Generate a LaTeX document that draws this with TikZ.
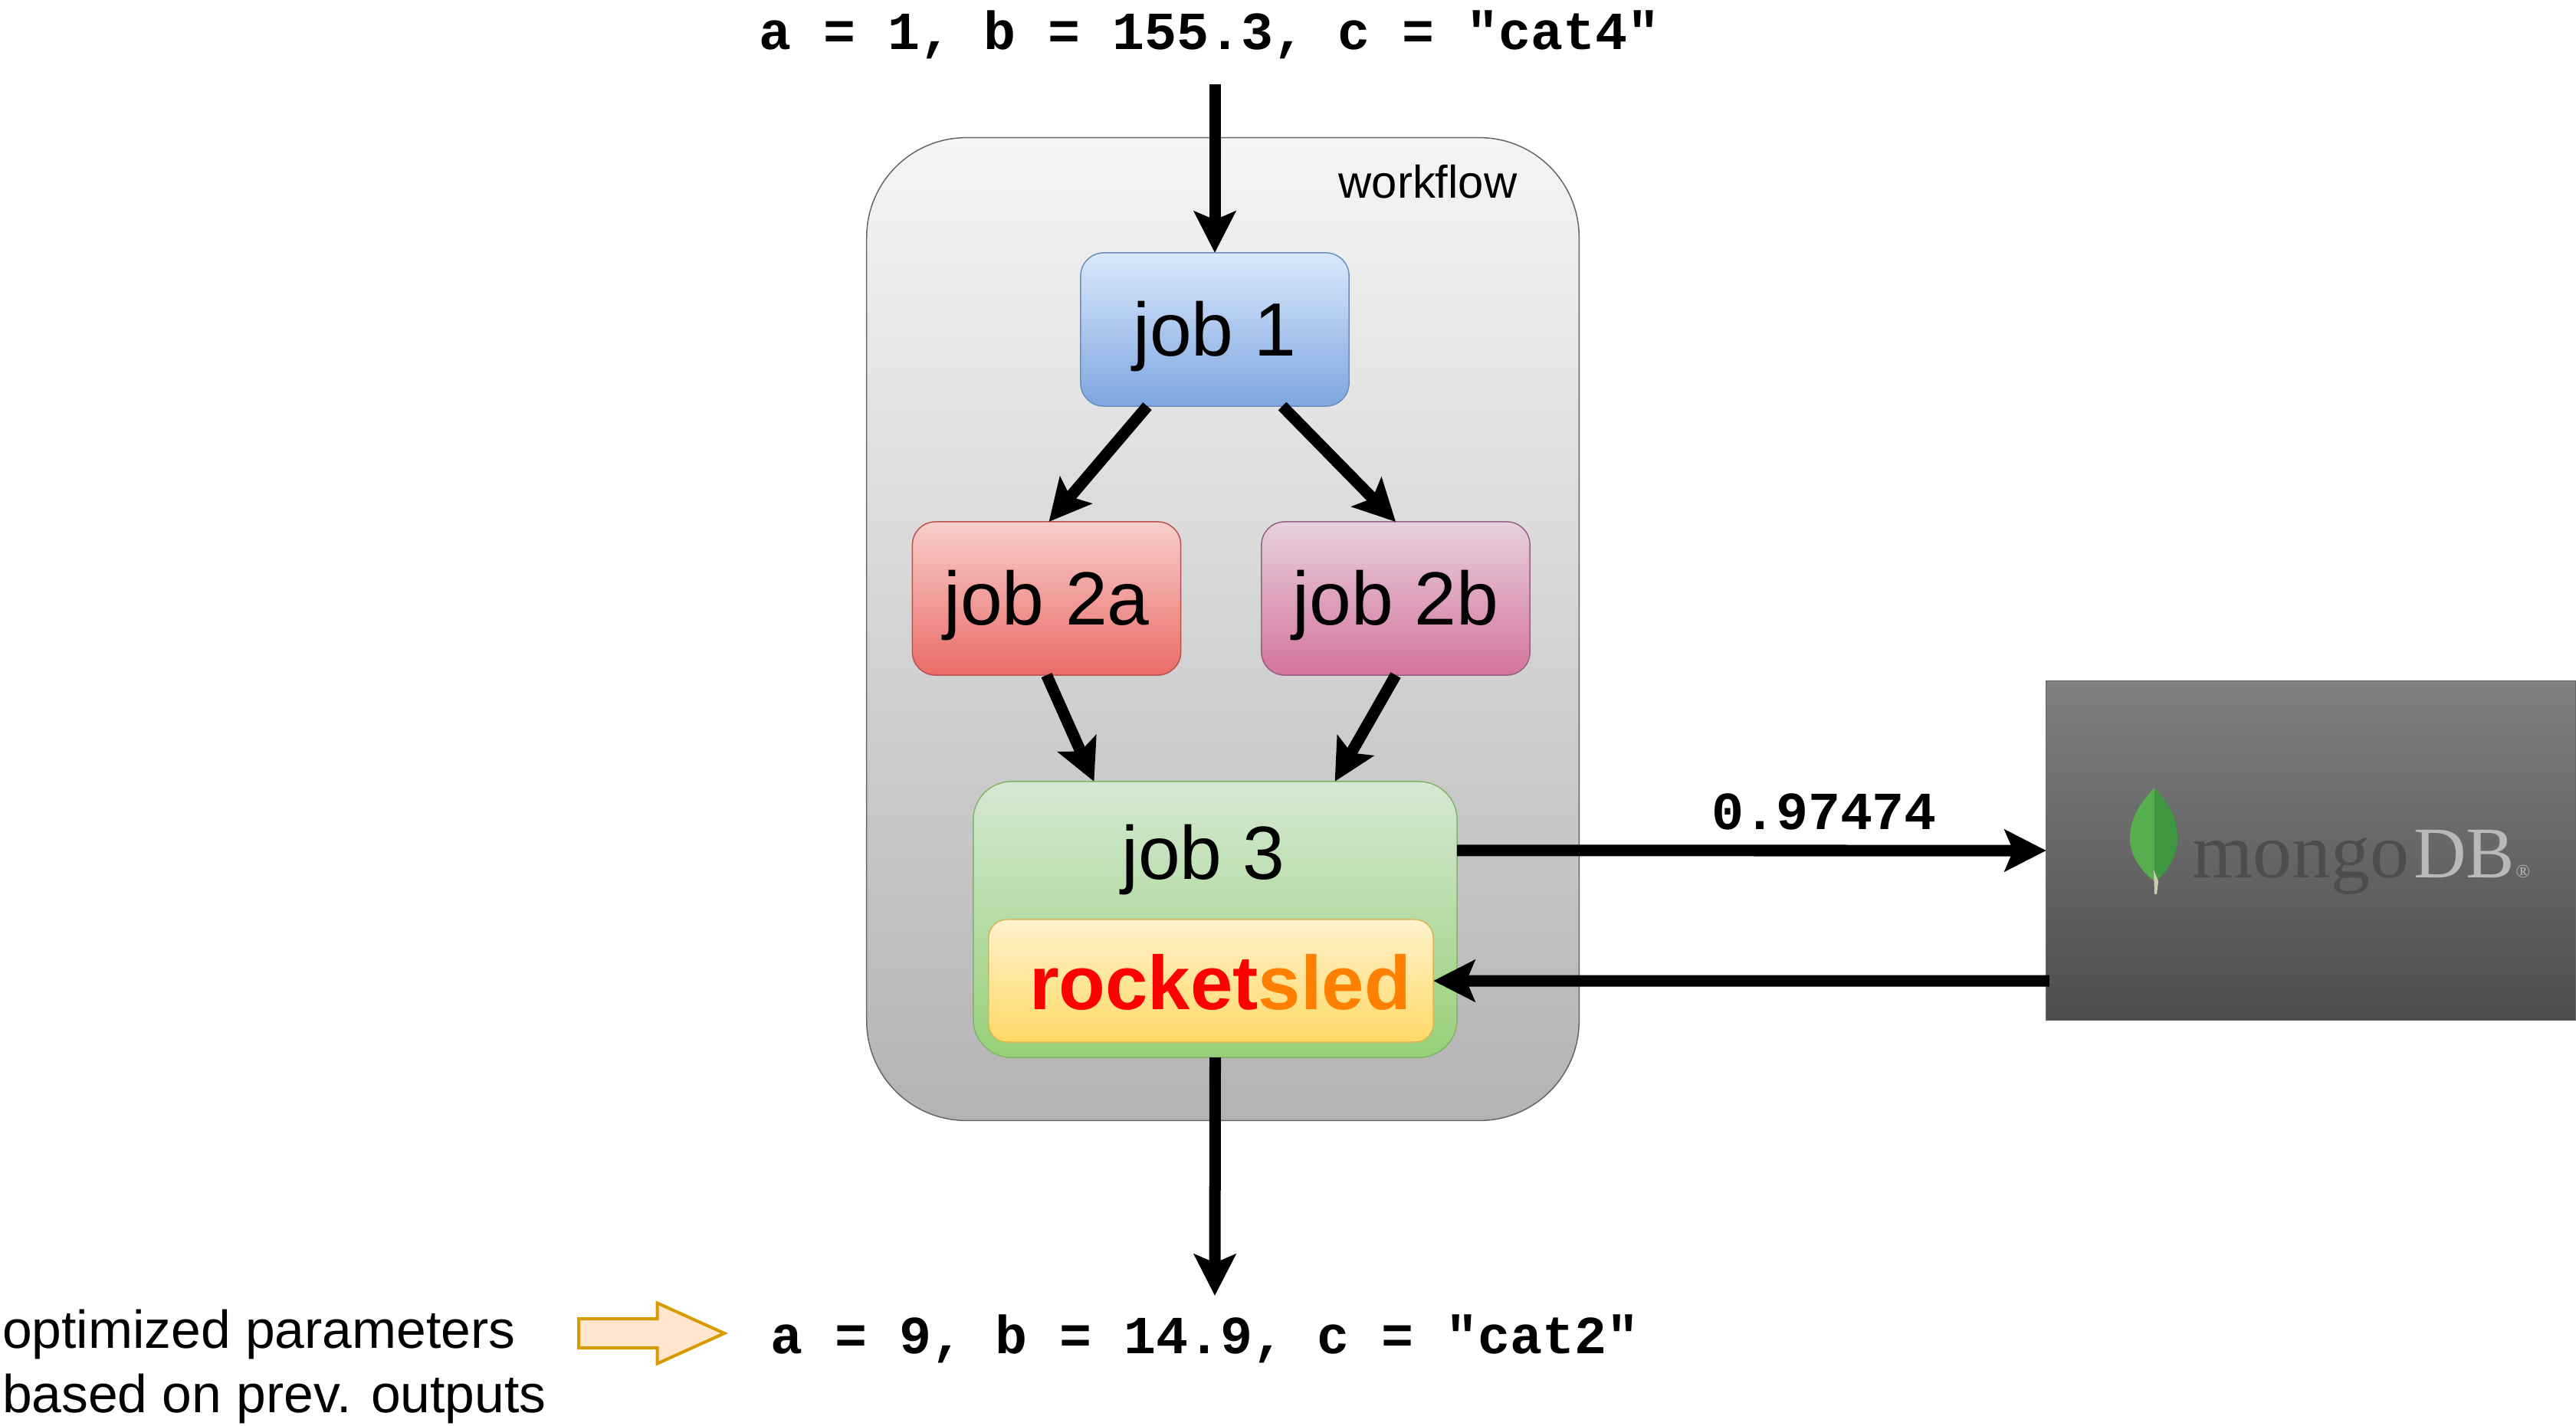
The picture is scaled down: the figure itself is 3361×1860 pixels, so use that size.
\documentclass[tikz,border=0pt]{standalone}
\usepackage{fontspec}
\setmainfont{Liberation Sans}
\setmonofont{Liberation Mono}
\newfontfamily\mongofont{Liberation Serif}
\usepackage{tikz}
\usetikzlibrary{arrows.meta,positioning,shapes.geometric,shapes.arrows,calc}
\definecolor{mongotxt}{HTML}{4D4D4F}
\definecolor{dbtxt}{HTML}{B9B9B9}

\begin{document}
\begin{tikzpicture}[
  x=0.01cm, y=-0.01cm,
  every node/.style={align=center, outer sep=0pt, inner sep=0pt},
  gbox/.style={draw, line width=0.015cm, minimum width=3.5cm, minimum height=2cm,
               rounded corners=0.3cm, font=\fontsize{28}{34}\selectfont},
  bluebox/.style={gbox, text height=0.9cm, top color={rgb,255:red,218;green,232;blue,252}, bottom color={rgb,255:red,126;green,166;blue,224}, draw={rgb,255:red,108;green,142;blue,191}},
  redbox/.style={gbox, text height=0.9cm, top color={rgb,255:red,248;green,206;blue,204}, bottom color={rgb,255:red,234;green,107;blue,102}, draw={rgb,255:red,184;green,84;blue,80}},
  pinkbox/.style={gbox, text height=0.9cm, top color={rgb,255:red,230;green,208;blue,222}, bottom color={rgb,255:red,213;green,115;blue,157}, draw={rgb,255:red,150;green,97;blue,133}},
  greenbox/.style={gbox, minimum width=6.31cm, minimum height=3.6cm, rounded corners=0.5cm,
               top color={rgb,255:red,213;green,232;blue,212}, bottom color={rgb,255:red,151;green,208;blue,119}, draw={rgb,255:red,130;green,179;blue,102}},
  sledbox/.style={gbox, minimum width=5.8cm, minimum height=1.6cm, rounded corners=0.24cm,
               top color={rgb,255:red,255;green,242;blue,204}, bottom color={rgb,255:red,255;green,217;blue,102}, draw={rgb,255:red,214;green,182;blue,86}},
  arr/.style={-{Stealth[length=0.54cm,width=0.54cm,inset=0.11cm]}, line width=0.15cm},
  montext/.style={font=\fontsize{19.9}{24}\ttfamily\bfseries, anchor=base},
  sidetext/.style={font=\fontsize{19.8}{23.8}\selectfont, align=left, anchor=base west}
]
\useasboundingbox (0,0) rectangle (3361,1860);

%% Workflow background
\node[draw={rgb,255:red,102;green,102;blue,102}, line width=0.015cm, rounded corners=1.3cm,
      minimum width=9.29cm, minimum height=12.82cm,
      top color={rgb,255:red,245;green,245;blue,245}, bottom color={rgb,255:red,179;green,179;blue,179}]
      (flow) at (1595.5,821) {};
\node[font=\fontsize{17}{20}\selectfont, anchor=base] (flowtxt) at (1863,258) {workflow};

%% Jobs
\node[bluebox] (job1)  at (1585,430)   {job 1};
\node[redbox]  (job2a) at (1365.5,781) {job 2a};
\node[pinkbox] (job2b) at (1821,781)   {job 2b};
\node[greenbox] (job3) at (1585.5,1200) {};
\node[font=\fontsize{28}{34}\selectfont, anchor=base] (job3txt) at (1570,1147) {job 3};
\node[sledbox, text height=0.76cm, font=\fontsize{28.3}{34}\bfseries] (sled) at (1580,1280)
      {\hspace{0.24cm}\textcolor{red}{rocket}\textcolor{orange}{sled}};

%% Database
\node[cylinder, shape border rotate=90, aspect=0.2, draw=gray!80!black, line width=0.01cm,
      minimum width=6.9cm, minimum height=4.43cm,
      top color={rgb,255:red,128;green,128;blue,128}, bottom color={rgb,255:red,77;green,77;blue,77}]
      (db) at (3015,1110) {};

%% Leaf logo
\fill[fill={rgb,255:red,86;green,174;blue,79}] (2811,1028) .. controls (2785,1055) and (2779,1075) .. (2779,1095)
      .. controls (2779,1118) and (2795,1138) .. (2811,1150) -- cycle;
\fill[fill={rgb,255:red,64;green,151;blue,66}] (2811,1028) .. controls (2836,1055) and (2841,1075) .. (2841,1095)
      .. controls (2841,1118) and (2827,1138) .. (2813,1150) -- (2811,1150) -- cycle;
\fill[fill={rgb,255:red,205;green,204;blue,175}] (2810,1135) -- (2816,1150) -- (2814,1167) -- (2811,1167) -- cycle;
\node[font=\fontsize{29}{34}\mongofont, text=mongotxt, anchor=base west] (mongo) at (2860,1145) {mongo};
\node[font=\fontsize{27}{34}\mongofont, text=dbtxt, anchor=base west] (dbname) at (3149,1145) {DB};
\node[font=\fontsize{7}{8}\mongofont, text=dbtxt, anchor=base] (regmark) at (3292,1145) {®};

%% Parameter and value labels
\node[montext] (inparams)  at (1578,64)   {a = 1, b = 155.3, c = "cat4"};
\node[montext] (outparams) at (1572,1766) {a = 9, b = 14.9, c = "cat2"};
\node[montext] (score)     at (2380,1082) {0.97474};
\node[sidetext] (hint) at (3,1843) {optimized parameters\\based on prev. outputs};
\node[single arrow, text height=0.34cm, text depth=0cm, minimum height=1.9cm, single arrow head extend=0.205cm,
      single arrow tip angle=48.6, draw={rgb,255:red,215;green,155;blue,0}, line width=0.04cm,
      fill={rgb,255:red,255;green,230;blue,204}] (hintarr) at (829,1740) {};

%% Arrows
\coordinate (intop) at (1585,110);
\coordinate (outtip) at (1585,1691);
\draw[arr] (intop) -- (job1.north);
\draw[arr] ([xshift=-0.88cm]job1.south) -- ([xshift=0.03cm]job2a.north);
\draw[arr] ([xshift=0.88cm]job1.south) -- (job2b.north);
\draw[arr] (job2a.south) -- ([xshift=-1.58cm]job3.north);
\draw[arr] (job2b.south) -- ([xshift=1.56cm]job3.north);
\draw[arr] ([yshift=0.9cm]job3.east) -- ([yshift=0cm]db.west);
\draw[arr] ([xshift=0.04cm,yshift=-1.7cm]db.west) -- (sled.east);
\draw[arr] (job3.south) -- (outtip);

\end{tikzpicture}
\end{document}
